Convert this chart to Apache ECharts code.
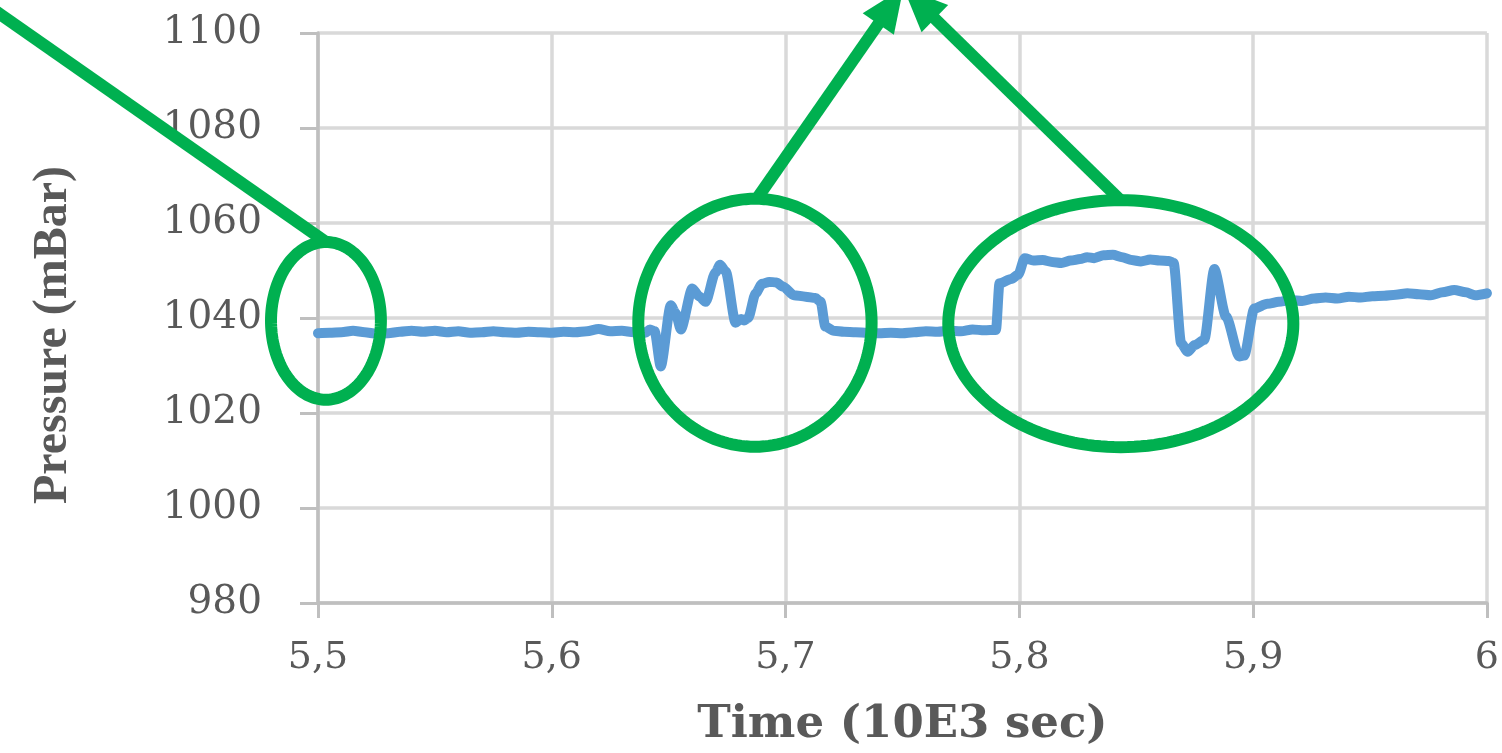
<!DOCTYPE html>
<html>
<head>
<meta charset="utf-8">
<script src="https://cdn.jsdelivr.net/npm/echarts@6/dist/echarts.min.js"></script>
<style>
html,body{margin:0;padding:0;background:#fff;}
#chart{width:1502px;height:753px;}
</style>
</head>
<body>
<div id="chart"></div>
<script>
// ---- data (time in 10E3 sec, pressure in mBar) ----
const times = [
5.500,5.505,5.510,5.515,5.520,5.525,5.530,5.535,5.540,5.545,5.550,5.555,5.560,5.565,5.570,5.575,5.580,5.585,5.590,5.595,
5.600,5.605,5.610,5.615,5.620,5.625,5.630,5.635,5.640,5.642,5.644,5.6466,5.6509,5.6530,5.6552,5.6601,5.6630,5.6658,5.6700,5.6720,
5.6744,5.6786,5.6810,5.6822,5.6840,5.6872,5.6900,5.6930,5.6960,5.6990,5.7035,5.7085,5.7128,5.7150,5.7170,5.7206,5.7250,5.730,5.735,5.740,
5.745,5.750,5.755,5.760,5.765,5.770,5.775,5.780,5.785,5.790,5.7915,5.7965,5.7995,5.8023,5.8060,5.8100,5.8140,5.8180,5.8220,5.8260,
5.8290,5.8320,5.8360,5.8400,5.8440,5.8480,5.8520,5.8560,5.8600,5.8640,5.8660,5.8692,5.8720,5.8750,5.8791,5.8834,5.8884,5.8941,5.8962,5.9005,
5.9061,5.911,5.916,5.921,5.926,5.931,5.936,5.941,5.946,5.951,5.956,5.961,5.966,5.971,5.976,5.981,5.986,5.991,5.995,6.000
];
const pressure = [
1036.8,1036.9,1037.0,1037.3,1037.0,1036.7,1036.8,1037.1,1037.3,1037.1,1037.3,1037.0,1037.2,1036.9,1037.0,1037.2,1037.0,1036.9,1037.1,1037.0,
1036.9,1037.1,1037.0,1037.2,1037.7,1037.2,1037.3,1037.0,1036.9,1037.6,1037.2,1029.8,1042.7,1041.0,1037.6,1046.2,1044.6,1043.4,1049.6,1051.2,
1049.8,1039.0,1039.8,1039.5,1040.0,1045.2,1047.2,1047.6,1047.5,1046.6,1044.8,1044.5,1044.2,1043.4,1038.2,1037.3,1037.1,1037.0,1036.9,1036.8,
1036.9,1036.8,1037.0,1037.2,1037.1,1037.3,1037.2,1037.6,1037.4,1037.5,1047.3,1048.2,1049.1,1052.6,1052.1,1052.2,1051.8,1051.6,1052.1,1052.4,
1052.8,1052.6,1053.2,1053.3,1052.8,1052.2,1051.9,1052.3,1052.1,1052.0,1051.6,1034.7,1032.9,1034.3,1035.4,1050.3,1040.3,1031.9,1032.1,1042.0,
1043.0,1043.4,1043.8,1043.6,1044.1,1044.3,1044.1,1044.5,1044.3,1044.6,1044.7,1044.9,1045.2,1045.0,1044.8,1045.4,1045.9,1045.4,1044.8,1045.2
];
const xTicks = [5.5, 5.6, 5.7, 5.8, 5.9, 6.0];
const yTicks = [980, 1000, 1020, 1040, 1060, 1080, 1100];
const xTitle = 'Time (10E3 sec)';
const yTitle = 'Pressure (mBar)';

// ---- annotations, in data coordinates ----
const ellipseCenters = [[5.5034, 1039.4], [5.6869, 1039.0], [5.8434, 1038.8]];
const ellipseRadii = [[0.0235, 16.6], [0.0499, 26.1], [0.0738, 26.0]];
const leaderLine = [[5.3601, 1105.3], [5.5034, 1056.0]];
const arrowStarts = [[5.6877, 1065.1], [5.8433, 1064.8]];
const arrowTip = [5.7504, 1109.5];

const chart = echarts.init(document.getElementById('chart'), null, {renderer: 'canvas'});
const labelColor = '#595959';

const option = {
  animation: false,
  backgroundColor: '#ffffff',
  grid: {left: 318, right: 12, top: 33, bottom: 150, containLabel: false},
  xAxis: {
    type: 'value',
    min: xTicks[0], max: xTicks[xTicks.length - 1], interval: 0.1,
    name: xTitle, nameLocation: 'middle', nameGap: 100,
    nameTextStyle: {fontFamily: 'DejaVu Serif', fontWeight: 'bold', fontSize: 45, color: labelColor},
    axisLine: {show: true, lineStyle: {color: '#bfbfbf', width: 3.5}},
    axisTick: {show: true, inside: false, length: 15, lineStyle: {color: '#bfbfbf', width: 3}},
    axisLabel: {margin: 36, fontFamily: 'DejaVu Serif', fontSize: 38, color: labelColor,
      formatter: v => String(+v.toFixed(1)).replace('.', ',')},
    splitLine: {show: true, lineStyle: {color: '#d9d9d9', width: 3.5}}
  },
  yAxis: {
    type: 'value',
    min: yTicks[0], max: yTicks[yTicks.length - 1], interval: 20,
    name: yTitle, nameLocation: 'middle', nameGap: 240,
    nameTextStyle: {fontFamily: 'Liberation Serif', fontWeight: 'bold', fontSize: 48, color: labelColor, padding: [0, 34, 0, 0]},
    axisLine: {show: true, lineStyle: {color: '#bfbfbf', width: 3.5}},
    axisTick: {show: true, inside: false, length: 18, lineStyle: {color: '#bfbfbf', width: 3}},
    axisLabel: {margin: 56, fontFamily: 'DejaVu Serif', fontSize: 39, color: labelColor,
      formatter: v => String(v)},
    splitLine: {show: true, lineStyle: {color: '#d9d9d9', width: 3.5}}
  },
  series: [{
    type: 'line',
    data: times.map((t, i) => [t, pressure[i]]),
    showSymbol: false,
    symbol: 'none',
    smooth: 0.25,
    smoothMonotone: 'x',
    lineStyle: {color: '#5b9bd5', width: 10, cap: 'round', join: 'round'},
    z: 3
  }]
};
chart.setOption(option);

function drawAnnotations() {
  const toPx = p => chart.convertToPixel({gridIndex: 0}, p);
  const green = '#00b050';
  const lw = 12;
  const els = [];
  ellipseCenters.forEach((c, i) => {
    const r = ellipseRadii[i];
    const pts = [];
    const n = 160;
    for (let k = 0; k < n; k++) {
      const a = 2 * Math.PI * k / n;
      pts.push(toPx([c[0] + r[0] * Math.cos(a), c[1] + r[1] * Math.sin(a)]));
    }
    els.push({type: 'polygon', shape: {points: pts}, style: {fill: 'none', stroke: green, lineWidth: lw}, z: 100, silent: true});
  });
  const l0 = toPx(leaderLine[0]), l1 = toPx(leaderLine[1]);
  els.push({type: 'line', shape: {x1: l0[0], y1: l0[1], x2: l1[0], y2: l1[1]}, style: {stroke: green, lineWidth: lw}, z: 100, silent: true});
  const tip = toPx(arrowTip);
  arrowStarts.forEach(s => {
    const p = toPx(s);
    const dx = tip[0] - p[0], dy = tip[1] - p[1];
    const len = Math.hypot(dx, dy);
    const ux = dx / len, uy = dy / len;
    const headLen = 44, halfW = 19;
    const bx = tip[0] - ux * headLen, by = tip[1] - uy * headLen;
    els.push({type: 'line', shape: {x1: p[0], y1: p[1], x2: bx + ux * 2, y2: by + uy * 2}, style: {stroke: green, lineWidth: lw}, z: 100, silent: true});
    els.push({type: 'polygon', shape: {points: [
      [tip[0], tip[1]],
      [bx - uy * halfW, by + ux * halfW],
      [bx + uy * halfW, by - ux * halfW]
    ]}, style: {fill: green}, z: 100, silent: true});
  });
  chart.setOption({graphic: els});
}
drawAnnotations();
</script>
</body>
</html>
